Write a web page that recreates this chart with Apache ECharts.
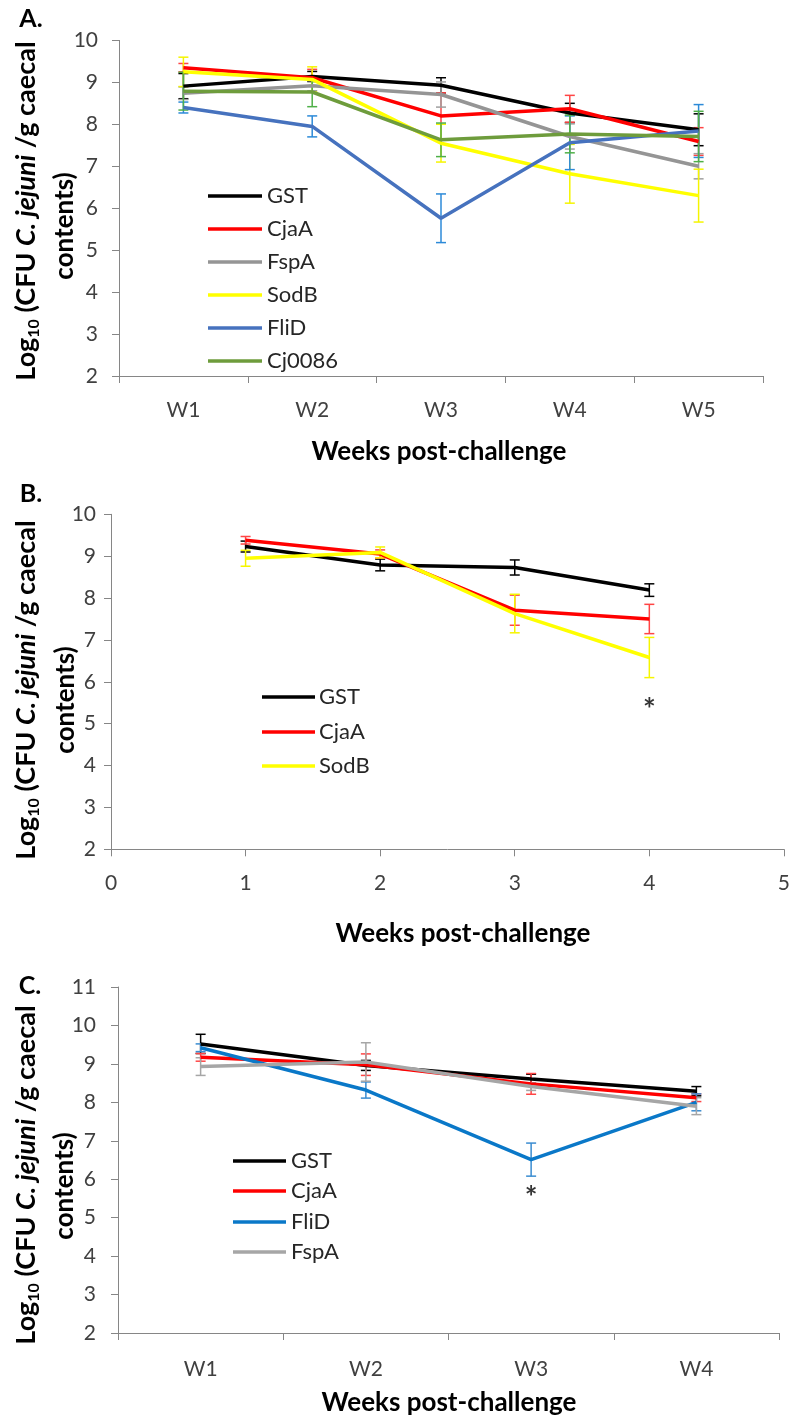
<!DOCTYPE html>
<html><head><meta charset="utf-8">
<script src="https://cdn.jsdelivr.net/npm/echarts@6/dist/echarts.min.js"></script>
<style>html,body{margin:0;padding:0;background:#fff}#c{width:793px;height:1418px}</style>
</head><body><div id="c"></div>
<script>
// ---------- DATA ----------
// Panel A
const catsA = ['W1', 'W2', 'W3', 'W4', 'W5'];
const namesA = ['GST', 'CjaA', 'FspA', 'SodB', 'FliD', 'Cj0086'];
const gstA    = [8.91, 9.14, 8.93, 8.27, 7.87];
const gstAErr = [0.30, 0.12, 0.18, 0.23, 0.38];
const cjaA_A    = [9.35, 9.11, 8.20, 8.37, 7.59];
const cjaA_AErr = [0.10, 0.20, 0.55, 0.32, 0.33];
const fspA_A    = [8.74, 8.92, 8.71, 7.71, 7.00];
const fspA_AErr = [0.15, 0.12, 0.30, 0.30, 0.30];
const sodB_A    = [9.25, 9.07, 7.55, 6.82, 6.30];
const sodB_AErr = [0.35, 0.30, 0.45, 0.70, 0.63];
const fliD_A    = [8.40, 7.95, 5.76, 7.56, 7.84];
const fliD_AErr = [0.13, 0.25, 0.58, 0.64, 0.63];
const cj0086_A    = [8.79, 8.77, 7.63, 7.77, 7.71];
const cj0086_AErr = [0.45, 0.35, 0.40, 0.45, 0.60];

// Panel B (numeric weeks)
const weeksB = [1, 2, 3, 4];
const namesB = ['GST', 'CjaA', 'SodB'];
const gstB    = [9.23, 8.79, 8.73, 8.19];
const gstBErr = [0.13, 0.14, 0.18, 0.15];
const cjaA_B    = [9.38, 9.05, 7.71, 7.50];
const cjaA_BErr = [0.09, 0.10, 0.36, 0.35];
const sodB_B    = [8.95, 9.09, 7.63, 6.58];
const sodB_BErr = [0.19, 0.13, 0.46, 0.48];
const starB = [[4, 5.33]];

// Panel C
const catsC = ['W1', 'W2', 'W3', 'W4'];
const namesC = ['GST', 'CjaA', 'FliD', 'FspA'];
const gstC    = [9.52, 8.96, 8.61, 8.29];
const gstCErr = [0.25, 0.13, 0.12, 0.12];
const cjaA_C    = [9.17, 8.98, 8.48, 8.12];
const cjaA_CErr = [0.10, 0.28, 0.27, 0.10];
const fliD_C    = [9.42, 8.32, 6.51, 8.00];
const fliD_CErr = [0.10, 0.21, 0.43, 0.22];
const fspA_C    = [8.93, 9.05, 8.41, 7.90];
const fspA_CErr = [0.23, 0.50, 0.10, 0.22];
const starC = [[2, 5.5]];

// Axis ticks
const yMinAB = 2, yMaxAB = 10, yMinC = 2, yMaxC = 11;
const xMinB = 0, xMaxB = 5;

// ---------- STYLE ----------
const FONT = 'Lato, "Open Sans", sans-serif';
const AX = '#868686';
const TXT = '#404040';
const stylesA = {
  GST: ['#000000', '#000000'], CjaA: ['#FF0000', '#FF4545'], FspA: ['#959595', '#A0A0A0'],
  SodB: ['#FFFF00', '#F5F500'], FliD: ['#4672BE', '#2C8AD8'], Cj0086: ['#6E9C3C', '#4FB048']
};
const stylesB = { GST: ['#000000', '#000000'], CjaA: ['#FF0000', '#FF4545'], SodB: ['#FFFF00', '#F5F500'] };
const stylesC = { GST: ['#000000', '#000000'], CjaA: ['#FF0000', '#FF4545'], FliD: ['#0A78C8', '#3A8CD0'], FspA: ['#A6A6A6', '#A6A6A6'] };

const panelA = { GST: [gstA, gstAErr], CjaA: [cjaA_A, cjaA_AErr], FspA: [fspA_A, fspA_AErr], SodB: [sodB_A, sodB_AErr], FliD: [fliD_A, fliD_AErr], Cj0086: [cj0086_A, cj0086_AErr] };
const panelB = { GST: [gstB, gstBErr], CjaA: [cjaA_B, cjaA_BErr], SodB: [sodB_B, sodB_BErr] };
const panelC = { GST: [gstC, gstCErr], CjaA: [cjaA_C, cjaA_CErr], FliD: [fliD_C, fliD_CErr], FspA: [fspA_C, fspA_CErr] };

function errSeries(idx, vals, errs, xs, color) {
  return {
    type: 'custom', xAxisIndex: idx, yAxisIndex: idx, z: 1, silent: true, animation: false,
    data: vals.map((v, i) => [xs ? xs[i] : i, v, errs[i]]),
    renderItem: (p, api) => {
      const x = api.value(0), y = api.value(1), e = api.value(2);
      const t = api.coord([x, y + e]), b = api.coord([x, y - e]);
      const hw = 5, st = { stroke: color, lineWidth: 1.5 };
      return { type: 'group', children: [
        { type: 'line', shape: { x1: t[0], y1: t[1], x2: b[0], y2: b[1] }, style: st },
        { type: 'line', shape: { x1: t[0] - hw, y1: t[1], x2: t[0] + hw, y2: t[1] }, style: st },
        { type: 'line', shape: { x1: b[0] - hw, y1: b[1], x2: b[0] + hw, y2: b[1] }, style: st }
      ]};
    }
  };
}
function lineSeries(idx, name, vals, xs, color) {
  return {
    type: 'line', name, xAxisIndex: idx, yAxisIndex: idx, z: 3, silent: true,
    data: xs ? vals.map((v, i) => [xs[i], v]) : vals,
    symbol: 'none', showSymbol: false,
    lineStyle: { width: 3.5, color }, itemStyle: { color }
  };
}

const series = [];
function addPanel(idx, names, panel, styles, xs) {
  names.forEach(n => series.push(errSeries(idx, panel[n][0], panel[n][1], xs, styles[n][1])));
  names.forEach(n => series.push(lineSeries(idx, n, panel[n][0], xs, styles[n][0])));
}
addPanel(0, namesA, panelA, stylesA, null);
addPanel(1, namesB, panelB, stylesB, weeksB);
addPanel(2, namesC, panelC, stylesC, null);
function starSeries(idx, pts) {
  return { type: 'scatter', xAxisIndex: idx, yAxisIndex: idx, data: pts, symbolSize: 1, itemStyle: { color: 'rgba(0,0,0,0)' }, z: 5, silent: true,
    label: { show: true, formatter: '*', position: 'inside', fontSize: 30, fontWeight: 'bold', color: '#000', fontFamily: FONT } };
}
series.push(starSeries(1, starB));
series.push(starSeries(2, starC));

const lineAx = { show: true, lineStyle: { color: AX, width: 1 } };
const tickAx = { show: true, length: 7, lineStyle: { color: AX, width: 1 } };
function yAxis(idx, min, max, margin) {
  return { type: 'value', gridIndex: idx, min, max, interval: 1, axisLine: lineAx, axisTick: tickAx,
    splitLine: { show: false }, axisLabel: { fontSize: 21, color: TXT, fontFamily: FONT, margin } };
}
const xLabel = m => ({ fontSize: 21, color: TXT, fontFamily: FONT, margin: m });

// ---------- GRAPHICS: titles, legends ----------
const graphic = [];
function txt(x, y, text, opt) {
  graphic.push(Object.assign({ type: 'text', x, y, style: Object.assign({ text, fontFamily: FONT, fill: '#000', align: 'center', verticalAlign: 'middle' }, opt.style || {}) }, opt.el || {}));
}
// Panel letters
txt(31, 19, 'A.', { style: { fontSize: 25, fontWeight: 'bold' } });
txt(31, 494, 'B.', { style: { fontSize: 25, fontWeight: 'bold' } });
txt(30, 986, 'C.', { style: { fontSize: 25, fontWeight: 'bold' } });
// X titles
txt(439, 452, 'Weeks post-challenge', { style: { fontSize: 26, fontWeight: 'bold' } });
txt(463, 934, 'Weeks post-challenge', { style: { fontSize: 26, fontWeight: 'bold' } });
txt(449, 1403, 'Weeks post-challenge', { style: { fontSize: 26, fontWeight: 'bold' } });
// Y titles
const yRich = {
  b: { fontSize: 27, fontWeight: 'bold', fontFamily: FONT, fill: '#000' },
  s: { fontSize: 16, fontWeight: 'bold', fontFamily: FONT, fill: '#000', verticalAlign: 'bottom', lineHeight: 32 },
  i: { fontSize: 27, fontWeight: 'bold', fontStyle: 'italic', fontFamily: FONT, fill: '#000' }
};
function yTitle(cx1, cy1, cx2, cy2) {
  graphic.push({ type: 'text', x: cx1, y: cy1, rotation: Math.PI / 2,
    style: { text: '{b|Log}{s|10}{b| (CFU }{i|C. jejuni}{b| /g caecal}', rich: yRich, align: 'center', verticalAlign: 'middle' } });
  graphic.push({ type: 'text', x: cx2, y: cy2, rotation: Math.PI / 2,
    style: { text: 'contents)', fontSize: 26, fontWeight: 'bold', fontFamily: FONT, fill: '#000', align: 'center', verticalAlign: 'middle' } });
}
yTitle(26, 211, 65, 226);
yTitle(26, 690, 66, 700);
yTitle(26, 1175, 65, 1186);
// Legends
function legend(names, styles, x1, x2, tx, ys) {
  names.forEach((n, i) => {
    graphic.push({ type: 'line', shape: { x1, y1: ys[i], x2, y2: ys[i] }, style: { stroke: styles[n][0], lineWidth: 3.5 } });
    graphic.push({ type: 'text', x: tx, y: ys[i], style: { text: n, fontSize: 22, fontFamily: FONT, fill: '#262626', align: 'left', verticalAlign: 'middle' } });
  });
}
legend(namesA, stylesA, 208, 262, 267, [196, 229, 262, 295, 328, 361]);
legend(namesB, stylesB, 262, 315, 319, [697, 732, 766]);
legend(namesC, stylesC, 233, 286, 291, [1161, 1191, 1222, 1252]);

const option = {
  animation: false,
  backgroundColor: '#fff',
  grid: [
    { left: 119, top: 40.4, width: 644, height: 335.6 },
    { left: 111, top: 514.3, width: 674, height: 335 },
    { left: 118, top: 987, width: 661, height: 346 }
  ],
  xAxis: [
    { type: 'category', gridIndex: 0, data: catsA, boundaryGap: true, axisLine: lineAx, axisTick: tickAx, axisLabel: xLabel(24) },
    { type: 'value', gridIndex: 1, min: xMinB, max: xMaxB, interval: 1, axisLine: lineAx, axisTick: tickAx, splitLine: { show: false }, axisLabel: xLabel(23) },
    { type: 'category', gridIndex: 2, data: catsC, boundaryGap: true, axisLine: lineAx, axisTick: tickAx, axisLabel: xLabel(26) }
  ],
  yAxis: [yAxis(0, yMinAB, yMaxAB, 21), yAxis(1, yMinAB, yMaxAB, 15), yAxis(2, yMinC, yMaxC, 22)],
  series,
  graphic
};
const chart = echarts.init(document.getElementById('c'), null, { renderer: 'canvas' });
chart.setOption(option);
</script></body></html>
